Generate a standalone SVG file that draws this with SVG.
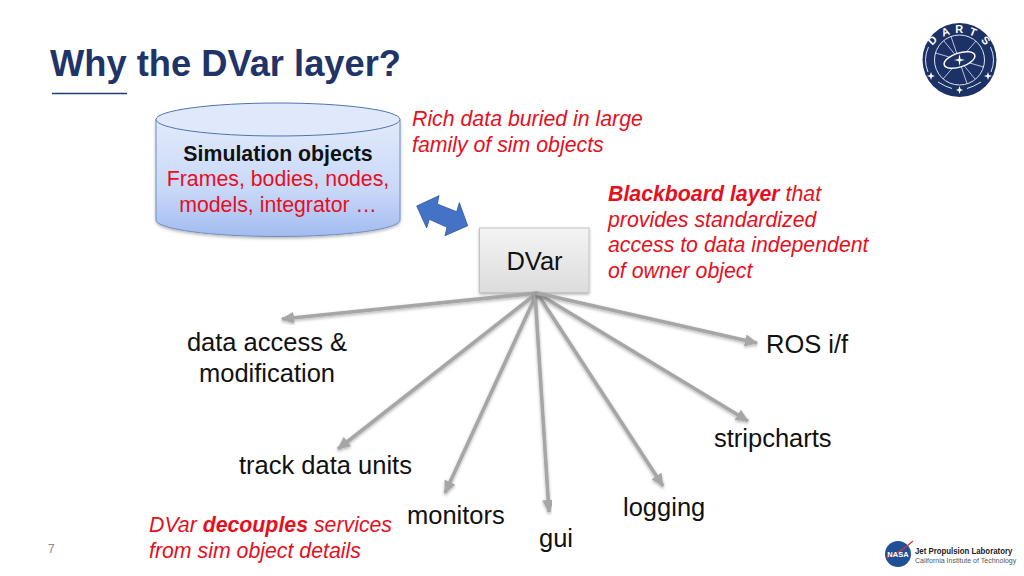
<svg xmlns="http://www.w3.org/2000/svg" width="1024" height="576" viewBox="0 0 1024 576">
<style>
text{font-family:"Liberation Sans",Arial,sans-serif}
.t{font-size:25.500px;fill:#111}
.c{font-size:21.300px;fill:#e60f1e;text-anchor:middle}
.r{font-size:21.300px;fill:#e60f1e;font-style:italic}
.a{stroke:#a6a6a6;stroke-width:3.6;fill:none;marker-end:url(#h);filter:url(#s)}
.w{stroke:#dfe6f2;fill:none}
</style>
<defs>
<marker id="h" markerUnits="userSpaceOnUse" markerWidth="14" markerHeight="12" refX="12" refY="6" orient="auto"><path d="M0 0L13 6L0 12z" fill="#a6a6a6"/></marker>
<filter id="s" x="-20%" y="-20%" width="140%" height="140%"><feDropShadow dx="0" dy="1.500" stdDeviation="1.500" flood-color="#000" flood-opacity=".3"/></filter>
<linearGradient id="cy" x1="0" y1="0" x2="0" y2="1"><stop offset="0" stop-color="#e2eafb"/><stop offset=".6" stop-color="#c8d8f8"/><stop offset="1" stop-color="#a3bbf0"/></linearGradient>
<linearGradient id="bx" x1="0" y1="0" x2="0" y2="1"><stop offset="0" stop-color="#f4f4f4"/><stop offset="1" stop-color="#dcdcdc"/></linearGradient>
</defs>
<rect width="1024" height="576" fill="#fff"/>
<g id="title">
<text x="50" y="75.500" font-size="36.300" font-weight="bold" fill="#1f3468">Why the DVar layer?</text>
<line x1="52" y1="93.500" x2="127" y2="93.500" stroke="#1f3f70" stroke-width="1.600"/>
</g>
<g id="darts-logo">
<circle cx="959.500" cy="60" r="37" fill="#1c3166"/>
<circle cx="959.500" cy="60" r="25" class="w" stroke-width="1"/>
<path class="w" stroke-width=".8" d="M951 36.500L967 83.500M935.500 53L983.500 67M943 79L976 41M975 79L944 41"/>
<ellipse cx="959.500" cy="60" rx="16" ry="7" transform="rotate(-18 959.500 60)" fill="#1c3166" stroke="#fff" stroke-width="1.500"/>
<path d="M959.500 54L960.500 59L965 60L960.500 61L959.500 66L958.500 61L954 60L958.500 59z" fill="#fff"/>
<path d="M931 72L932 75L935 76L932 77L931 80L930 77L927 76L930 75zM988 72L989 75L992 76L989 77L988 80L987 77L984 76L987 75zM959.500 86L960.500 89L963 90L960.500 91L959.500 94L958.500 91L956 90L958.500 89z" fill="#fff"/>
<path class="w" stroke-width="1" d="M928 72A31 31 0 0 1 928.500 47M990.500 47A31 31 0 0 1 991 72M938 82Q946 87 952 88.500M967 88.500Q973 87 981 82"/>
<g font-size="11" font-weight="bold" fill="#fff" text-anchor="middle">
<text transform="translate(935 43) rotate(-45)">D</text>
<text transform="translate(946.700 35.500) rotate(-20)">A</text>
<text transform="translate(959.300 33)">R</text>
<text transform="translate(971.700 35.500) rotate(22)">T</text>
<text transform="translate(983 43) rotate(45)">S</text>
</g>
</g>
<g id="jpl-logo">
<circle cx="898" cy="554" r="13" fill="#1f4f96"/>
<path d="M886 558Q900 553 913 541" stroke="#d8343a" stroke-width="1.200" fill="none"/>
<text x="898" y="557" font-size="7.500" font-weight="bold" fill="#fff" text-anchor="middle">NASA</text>
<text transform="translate(915 554) scale(.87 1)" font-size="9" font-weight="bold" fill="#222">Jet Propulsion Laboratory</text>
<text transform="translate(915 563) scale(.95 1)" font-size="7.400" fill="#555">California Institute of Technology</text>
</g>
<g id="simulation-objects">
<path d="M156 119.500V220A122 16.500 0 0 0 400 220V119.500z" fill="url(#cy)" stroke="#6f8fc4" stroke-width="1" filter="url(#s)"/>
<ellipse cx="278" cy="119.500" rx="122" ry="16.500" fill="#e0e9fb" stroke="#4f74ad" stroke-width="1"/>
<text x="278" y="161" font-size="21.300" font-weight="bold" text-anchor="middle" fill="#111">Simulation objects</text>
<text class="c" x="278" y="186">Frames, bodies, nodes,</text>
<text class="c" x="278" y="212">models, integrator …</text>
</g>
<g id="sync-arrow">
<path d="M416.700 206L439 195.700L437.300 204L456.700 211.700L459.300 202.700L467.700 225.700L445 235.700L447 227.300L429.300 219.300L426.700 228z" fill="#4472c4" stroke="#2f5597" stroke-width=".8"/>
</g>
<g id="dvar">
<rect x="479.500" y="228" width="109.500" height="64.500" fill="url(#bx)" stroke="#c4c4c4" filter="url(#s)"/>
<text x="534.500" y="270" font-size="25.500" text-anchor="middle" fill="#111">DVar</text>
</g>
<g id="connectors">
<path class="a" d="M537 293L282 319"/>
<path class="a" d="M537 293L338 449"/>
<path class="a" d="M537 293L445 493"/>
<path class="a" d="M535 293L549 512"/>
<path class="a" d="M537 293L663 486"/>
<path class="a" d="M537 293L748 421"/>
<path class="a" d="M537 293L757 343"/>
</g>
<g id="note-rich"><text class="r" x="412" y="126">Rich data buried in large</text><text class="r" x="412" y="152">family of sim objects</text></g>
<g id="note-blackboard">
<text class="r" x="608" y="201"><tspan font-weight="bold">Blackboard layer</tspan> that</text>
<text class="r" x="608" y="227">provides standardized</text>
<text class="r" x="608" y="252">access to data independent</text>
<text class="r" x="608" y="278">of owner object</text>
</g>
<g id="note-decouples">
<text class="r" x="149" y="532">DVar <tspan font-weight="bold">decouples</tspan> services</text>
<text class="r" x="149" y="558">from sim object details</text>
</g>
<g id="data-access"><text class="t" x="267" y="351" text-anchor="middle">data access &amp;</text><text class="t" x="267" y="382" text-anchor="middle">modification</text></g>
<g id="ros"><text class="t" x="766" y="353">ROS i/f</text></g>
<g id="stripcharts"><text class="t" x="714" y="447">stripcharts</text></g>
<g id="track"><text class="t" x="239" y="474">track data units</text></g>
<g id="logging"><text class="t" x="623" y="516">logging</text></g>
<g id="monitors"><text class="t" x="407" y="524">monitors</text></g>
<g id="gui"><text class="t" x="539" y="547">gui</text></g>
<g id="page"><text x="48" y="553" font-size="12" fill="#8a8a8a">7</text></g>
</svg>
